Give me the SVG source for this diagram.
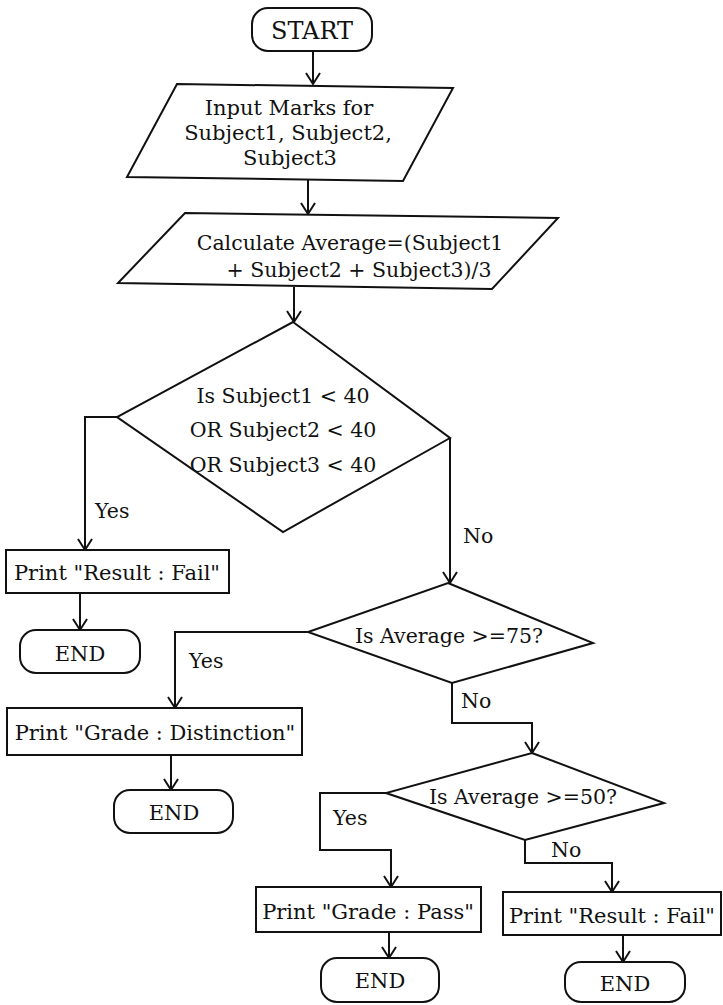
<svg xmlns="http://www.w3.org/2000/svg" width="723" height="1005" viewBox="0 0 723 1005">
<style>
.s{fill:#fff;stroke:#111;stroke-width:2;stroke-linejoin:miter}
.c{fill:none;stroke:#111;stroke-width:2}
text{font-family:"DejaVu Serif","Liberation Serif",serif;font-size:20.5px;fill:#111}
.m{text-anchor:middle}
.b{font-size:21px}
</style>
<defs>
<marker id="a" markerUnits="userSpaceOnUse" markerWidth="20" markerHeight="20" refX="13" refY="8" orient="auto" overflow="visible">
<path d="M2,1 L13,8 L2,15" fill="none" stroke="#111" stroke-width="2"/>
</marker>
</defs>
<rect width="723" height="1005" fill="#fff"/>
<g id="connectors" class="c">
<path d="M313,51 V84" marker-end="url(#a)"/>
<path d="M308,179 V214" marker-end="url(#a)"/>
<path d="M294,287 V322" marker-end="url(#a)"/>
<path d="M117,417 H85 V550" marker-end="url(#a)"/>
<path d="M450,438 V583" marker-end="url(#a)"/>
<path d="M80,593 V630" marker-end="url(#a)"/>
<path d="M308,632 H175 V708" marker-end="url(#a)"/>
<path d="M171,755 V790" marker-end="url(#a)"/>
<path d="M452,683 V723 H532 V753" marker-end="url(#a)"/>
<path d="M386,793 H320 V850 H391 V887" marker-end="url(#a)"/>
<path d="M525,840 V863 H612 V892" marker-end="url(#a)"/>
<path d="M389,932 V958" marker-end="url(#a)"/>
<path d="M623,935 V962" marker-end="url(#a)"/>
</g>
<g id="labels">
<text x="95" y="518">Yes</text>
<text x="463" y="543">No</text>
<text x="189" y="668">Yes</text>
<text x="461" y="708">No</text>
<text x="333" y="825">Yes</text>
<text x="551" y="857">No</text>
</g>
<g id="start">
<rect class="s" x="252" y="8" width="120" height="43" rx="16"/>
<text class="m" x="312" y="39" style="font-size:24px">START</text>
</g>
<g id="input">
<polygon class="s" points="177,84 453,88 403,181 127,177"/>
<text class="m b" x="289" y="115">Input Marks for</text>
<text class="m b" x="288" y="140">Subject1, Subject2,</text>
<text class="m b" x="290" y="165">Subject3</text>
</g>
<g id="calc">
<polygon class="s" points="185,213 558,218 492,289 118,283"/>
<text class="m" x="350" y="250">Calculate Average=(Subject1</text>
<text class="m" x="359" y="277">+ Subject2 + Subject3)/3</text>
</g>
<g id="dec1">
<polygon class="s" points="293,322 450,438 283,532 117,417"/>
<text class="m" x="283" y="403">Is Subject1 &lt; 40</text>
<text class="m" x="283" y="437">OR Subject2 &lt; 40</text>
<text class="m" x="283" y="472">OR Subject3 &lt; 40</text>
</g>
<g id="fail1">
<rect class="s" x="6" y="550" width="223" height="43"/>
<text class="m b" x="117" y="580">Print "Result : Fail"</text>
</g>
<g id="end1">
<rect class="s" x="20" y="630" width="120" height="43" rx="16"/>
<text class="m b" x="80" y="661">END</text>
</g>
<g id="dec2">
<polygon class="s" points="448,583 593,643 452,683 308,632"/>
<text class="m" x="449" y="643">Is Average &gt;=75?</text>
</g>
<g id="dist">
<rect class="s" x="7" y="708" width="295" height="47"/>
<text class="m b" x="155" y="740">Print "Grade : Distinction"</text>
</g>
<g id="end2">
<rect class="s" x="114" y="790" width="119" height="43" rx="16"/>
<text class="m b" x="174" y="820">END</text>
</g>
<g id="dec3">
<polygon class="s" points="532,753 664,803 525,840 386,793"/>
<text class="m" x="523" y="804">Is Average &gt;=50?</text>
</g>
<g id="pass">
<rect class="s" x="256" y="887" width="225" height="45"/>
<text class="m b" x="368" y="919">Print "Grade : Pass"</text>
</g>
<g id="fail2">
<rect class="s" x="503" y="892" width="218" height="43"/>
<text class="m b" x="612" y="923">Print "Result : Fail"</text>
</g>
<g id="end3">
<rect class="s" x="321" y="958" width="118" height="44" rx="16"/>
<text class="m b" x="380" y="988">END</text>
</g>
<g id="end4">
<rect class="s" x="565" y="962" width="120" height="40" rx="16"/>
<text class="m b" x="625" y="991">END</text>
</g>
</svg>
